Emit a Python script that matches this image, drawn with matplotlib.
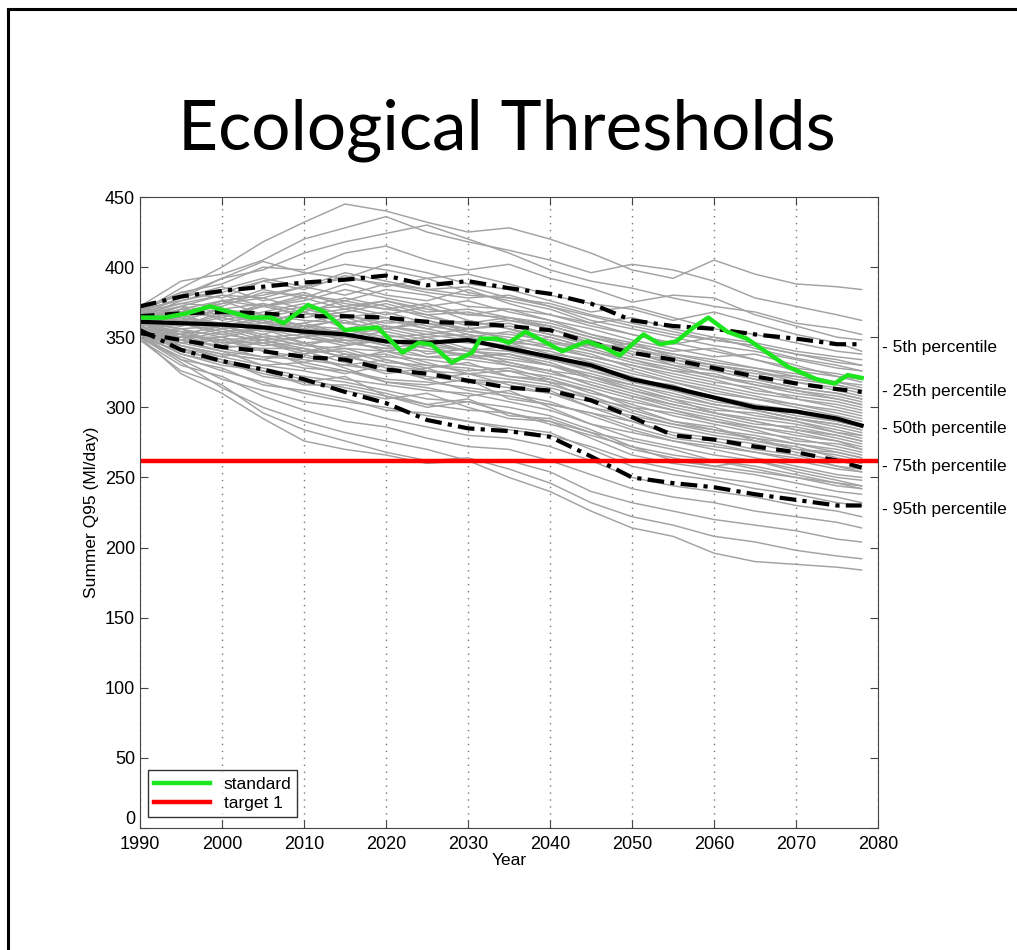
import matplotlib
matplotlib.use("Agg")
import matplotlib.pyplot as plt
from matplotlib.lines import Line2D

# ---- data ----
years = [1990, 1995, 2000, 2005, 2010, 2015, 2020, 2025, 2030, 2035,
         2040, 2045, 2050, 2055, 2060, 2065, 2070, 2075, 2078]

# ensemble members (grey)
members = [
    [368, 385, 400, 418, 432, 445, 440, 432, 425, 428, 420, 410, 398, 392, 405, 395, 388, 386, 384],
    [372, 390, 395, 405, 420, 428, 436, 425, 418, 412, 405, 396, 402, 398, 390, 378, 372, 366, 362],
    [366, 378, 392, 398, 410, 418, 424, 430, 420, 410, 398, 390, 385, 378, 372, 368, 360, 356, 352],
    [370, 382, 388, 400, 398, 410, 415, 405, 398, 402, 392, 385, 375, 380, 378, 366, 358, 350, 348],
    [364, 376, 382, 390, 395, 402, 398, 392, 395, 388, 380, 374, 370, 362, 368, 360, 352, 346, 340],
    [362, 372, 380, 378, 386, 392, 388, 384, 380, 378, 372, 365, 358, 352, 348, 344, 338, 334, 330],
    [368, 374, 372, 382, 380, 376, 384, 380, 372, 370, 366, 360, 352, 345, 350, 342, 335, 330, 326],
    [360, 366, 376, 372, 376, 384, 378, 372, 376, 368, 362, 356, 348, 342, 336, 338, 330, 322, 318],
    [370, 368, 374, 378, 370, 372, 376, 370, 366, 370, 362, 352, 344, 338, 332, 328, 324, 318, 316],
    [358, 370, 366, 372, 380, 374, 370, 366, 368, 362, 358, 350, 342, 336, 330, 326, 320, 316, 312],
    [366, 362, 370, 366, 372, 378, 372, 364, 360, 364, 356, 348, 338, 334, 328, 322, 318, 312, 308],
    [362, 364, 360, 366, 362, 360, 364, 358, 354, 352, 348, 340, 334, 328, 322, 318, 312, 306, 302],
    [360, 358, 364, 358, 360, 366, 358, 352, 356, 348, 342, 336, 330, 322, 316, 310, 306, 300, 296],
    [364, 362, 356, 360, 356, 354, 358, 354, 350, 346, 344, 338, 328, 320, 314, 308, 302, 298, 294],
    [358, 362, 360, 354, 358, 356, 350, 352, 348, 344, 340, 332, 324, 318, 310, 306, 300, 294, 290],
    [362, 356, 358, 362, 352, 350, 354, 348, 346, 342, 336, 330, 322, 314, 308, 302, 298, 292, 288],
    [356, 360, 354, 356, 354, 348, 346, 350, 342, 340, 334, 326, 318, 312, 306, 300, 294, 290, 286],
    [360, 354, 352, 348, 350, 346, 342, 340, 338, 334, 330, 322, 314, 306, 300, 294, 290, 284, 280],
    [358, 352, 348, 350, 344, 342, 340, 336, 334, 330, 324, 318, 310, 302, 296, 290, 284, 280, 276],
    [356, 350, 350, 344, 346, 338, 336, 334, 330, 326, 322, 314, 306, 298, 292, 286, 282, 276, 272],
    [354, 352, 346, 346, 340, 340, 332, 330, 328, 322, 318, 312, 302, 294, 288, 282, 278, 272, 268],
    [356, 348, 344, 342, 342, 336, 330, 326, 324, 320, 316, 308, 298, 290, 284, 280, 274, 268, 264],
    [354, 346, 340, 336, 334, 330, 326, 322, 318, 314, 310, 300, 290, 282, 278, 274, 268, 262, 258],
    [352, 344, 338, 334, 328, 326, 320, 318, 314, 310, 304, 294, 284, 276, 272, 268, 262, 256, 254],
    [355, 342, 336, 330, 326, 320, 316, 312, 310, 304, 298, 288, 278, 272, 266, 262, 256, 250, 248],
    [350, 340, 334, 328, 322, 318, 312, 306, 304, 300, 294, 284, 272, 266, 262, 256, 250, 246, 244],
    [353, 338, 330, 326, 320, 314, 308, 302, 298, 296, 290, 278, 266, 260, 256, 252, 246, 240, 238],
    [350, 336, 326, 318, 310, 304, 300, 294, 290, 286, 282, 270, 258, 252, 248, 242, 238, 232, 230],
    [352, 334, 320, 312, 304, 300, 292, 286, 280, 278, 272, 262, 250, 244, 240, 236, 230, 226, 222],
    [348, 330, 322, 308, 298, 290, 286, 278, 272, 270, 262, 252, 242, 236, 232, 226, 222, 218, 214],
    [350, 332, 314, 300, 290, 282, 276, 270, 262, 262, 254, 240, 232, 226, 220, 216, 212, 206, 204],
    [348, 326, 316, 296, 284, 276, 268, 262, 264, 256, 246, 232, 222, 216, 208, 204, 198, 194, 192],
    [350, 324, 310, 292, 276, 270, 266, 260, 262, 250, 240, 226, 214, 208, 196, 190, 188, 186, 184],
    [366, 372, 362, 368, 374, 366, 360, 362, 356, 360, 352, 344, 340, 330, 326, 320, 314, 310, 306],
    [360, 350, 356, 348, 340, 344, 348, 342, 336, 338, 330, 320, 312, 304, 298, 296, 290, 282, 280],
    [362, 370, 376, 366, 358, 362, 352, 346, 350, 340, 334, 328, 320, 316, 306, 298, 292, 288, 284],
    [354, 356, 344, 352, 346, 334, 340, 332, 324, 326, 318, 306, 300, 290, 286, 276, 270, 266, 262],
    [368, 378, 386, 376, 382, 372, 366, 372, 362, 356, 350, 342, 346, 336, 330, 324, 322, 316, 312],
    [358, 346, 350, 340, 332, 338, 328, 320, 324, 316, 310, 304, 292, 286, 280, 276, 272, 264, 260],
    [364, 368, 374, 384, 378, 388, 380, 376, 384, 374, 366, 358, 352, 346, 340, 334, 326, 322, 320],
    [356, 344, 336, 342, 330, 324, 330, 320, 312, 308, 302, 296, 290, 280, 276, 270, 266, 258, 256],
    [362, 358, 366, 360, 368, 356, 362, 356, 350, 354, 346, 340, 332, 326, 320, 312, 308, 304, 300],
    [352, 342, 332, 324, 318, 322, 308, 300, 304, 296, 288, 280, 272, 262, 258, 262, 254, 248, 244],
    [370, 380, 392, 404, 396, 392, 402, 396, 388, 384, 376, 368, 372, 364, 356, 352, 346, 340, 338],
    [360, 352, 342, 336, 338, 328, 318, 314, 308, 312, 300, 288, 282, 276, 270, 264, 258, 252, 250],
    [364, 358, 368, 362, 356, 364, 356, 360, 352, 346, 350, 342, 334, 326, 324, 316, 310, 306, 302],
    [358, 366, 358, 352, 360, 352, 344, 348, 340, 344, 336, 326, 320, 312, 304, 300, 296, 290, 286],
    [362, 368, 364, 372, 366, 370, 364, 356, 362, 356, 346, 344, 336, 330, 322, 316, 312, 308, 304],
    [356, 348, 354, 346, 350, 344, 350, 338, 342, 332, 326, 322, 312, 306, 296, 292, 288, 282, 278],
    [360, 362, 370, 374, 364, 368, 374, 366, 358, 362, 356, 346, 342, 334, 330, 326, 318, 314, 310],
    [354, 350, 342, 346, 338, 342, 334, 328, 332, 322, 320, 312, 300, 296, 290, 284, 276, 274, 270],
    [366, 374, 380, 372, 378, 370, 376, 368, 370, 364, 360, 352, 346, 340, 342, 334, 328, 324, 320],
    [352, 346, 348, 340, 336, 330, 334, 326, 320, 318, 314, 306, 296, 288, 284, 278, 274, 270, 266],
    [362, 360, 352, 356, 350, 356, 348, 344, 340, 336, 330, 324, 316, 310, 302, 298, 292, 286, 282],
    [368, 366, 376, 380, 386, 380, 388, 382, 378, 380, 372, 362, 356, 350, 344, 340, 334, 328, 326],
    [355, 340, 334, 322, 318, 312, 306, 310, 300, 292, 290, 282, 270, 264, 258, 254, 250, 244, 242],
    [360, 356, 350, 356, 346, 348, 340, 344, 336, 332, 326, 316, 308, 300, 294, 288, 286, 280, 276],
    [364, 372, 368, 360, 368, 360, 356, 362, 354, 350, 344, 336, 330, 324, 318, 314, 306, 302, 298],
    [358, 344, 338, 334, 340, 332, 324, 328, 318, 318, 312, 300, 294, 288, 282, 278, 270, 268, 264],
    [370, 376, 384, 392, 386, 396, 390, 384, 386, 378, 374, 366, 360, 354, 348, 344, 338, 332, 330],
    [354, 348, 340, 330, 332, 326, 318, 316, 320, 306, 302, 296, 286, 278, 274, 268, 264, 258, 254],
    [362, 364, 358, 364, 358, 352, 356, 350, 352, 346, 338, 334, 326, 318, 312, 306, 302, 296, 292],
    [356, 352, 358, 350, 344, 350, 344, 336, 338, 330, 326, 316, 308, 302, 296, 290, 284, 278, 274],
    [366, 364, 370, 364, 370, 364, 368, 360, 356, 358, 352, 346, 338, 332, 326, 320, 314, 310, 306],
    [352, 338, 332, 326, 316, 316, 310, 302, 306, 294, 292, 282, 276, 270, 262, 258, 252, 246, 242],
    [360, 370, 364, 374, 368, 376, 370, 374, 366, 364, 358, 350, 344, 338, 334, 328, 322, 318, 314],
    [356, 354, 346, 348, 342, 336, 338, 330, 326, 328, 320, 310, 304, 298, 290, 286, 280, 276, 270],
    [362, 352, 358, 350, 352, 346, 342, 346, 340, 338, 332, 322, 316, 308, 302, 298, 292, 288, 284],
    [368, 382, 378, 390, 384, 394, 386, 392, 382, 376, 370, 360, 364, 356, 350, 346, 340, 336, 334],
    [350, 334, 328, 316, 312, 306, 298, 296, 290, 284, 280, 272, 262, 256, 250, 246, 240, 236, 232],
]

p5 = [372, 379, 383, 386, 389, 391, 394, 387, 390, 385, 381, 374, 362, 358, 356, 352, 349, 345, 345]
p25 = [365, 367, 368, 367, 365, 365, 364, 361, 360, 358, 355, 346, 339, 334, 328, 322, 317, 313, 311]
p50 = [361, 360, 359, 357, 354, 352, 347, 346, 348, 342, 336, 330, 320, 314, 307, 300, 297, 292, 287]
p75 = [353, 348, 343, 340, 336, 334, 327, 324, 319, 314, 312, 305, 293, 280, 277, 272, 268, 262, 257]
p95 = [355, 341, 333, 327, 320, 311, 303, 291, 285, 283, 279, 265, 250, 246, 243, 238, 234, 230, 230]

std_years = [1990, 1993, 1995.7, 1998.5, 2001, 2003.5, 2006, 2007.5, 2010.5, 2012.5, 2015,
             2019, 2022, 2024, 2025.5, 2028, 2030.5, 2031.5, 2033.5, 2035, 2037, 2041.5,
             2044.5, 2046.5, 2048.5, 2051.4, 2053.4, 2055.4, 2057.5, 2059.3, 2061.6, 2064,
             2066.5, 2069, 2072.5, 2074.7, 2076.3, 2078]
standard = [364, 364, 367, 372, 368, 364, 364, 360, 373, 368, 355,
            357, 339, 346, 345, 332, 339, 349, 349, 346, 354, 340,
            347, 343, 337, 352, 345, 347, 357, 364, 354, 349,
            339, 329, 320, 317, 323, 321]

target1 = 262
pct_labels = ["- 5th percentile", "- 25th percentile", "- 50th percentile",
              "- 75th percentile", "- 95th percentile"]
pct_label_y = [343, 311, 285, 258, 227]

fig = plt.figure(figsize=(10.17, 9.5), dpi=100)
plt.rcParams["font.family"] = ["Liberation Sans", "DejaVu Sans"]

# slide frame
fig.add_artist(Line2D([8 / 1017, 8 / 1017], [0, 1 - 9 / 950], color="black", lw=2.2))
fig.add_artist(Line2D([8 / 1017, 1], [1 - 9 / 950, 1 - 9 / 950], color="black", lw=2.2))
fig.text(507 / 1017, 1 - 130 / 950, "Ecological Thresholds", ha="center", va="center",
         fontsize=50, family=["Lato", "DejaVu Sans"])

ax = fig.add_axes([140 / 1017, 122 / 950, 738 / 1017, 631 / 950])

for m in members:
    ax.plot(years, m, color="#a2a2a2", lw=1.05)

ax.plot(years, p5, color="black", lw=3, ls=(0, (4, 1.5, 1, 1.5)))
ax.plot(years, p95, color="black", lw=3, ls=(0, (4, 1.5, 1, 1.5)))
ax.plot(years, p25, color="black", lw=3, ls=(0, (3.5, 2.5)))
ax.plot(years, p75, color="black", lw=3, ls=(0, (3.5, 2.5)))
ax.plot(years, p50, color="black", lw=3)
ax.plot(std_years, standard, color="#1ee61e", lw=3.2, label="standard")
ax.axhline(target1, color="#ff0000", lw=3.2, label="target 1")

ax.set_xlim(1990, 2080)
ax.set_ylim(0, 450)
ax.set_xticks(range(1990, 2081, 10))
ax.set_yticks(range(0, 451, 50))
ax.tick_params(direction="in", length=6, top=True, right=True, labelsize=13,
               color="#444444")
ax.tick_params(axis="x", pad=6)
for s in ax.spines.values():
    s.set_color("#444444")
ax.xaxis.grid(True, ls=(0, (1, 4)), color="#777777", lw=1)
ax.set_xlabel("Year", fontsize=12.5, labelpad=0)
ax.set_ylabel("Summer Q95 (Ml/day)", fontsize=12.5, labelpad=4)

# the "0" label sits just above the corner, as in the original
ax.get_yticklabels()[0].set_va("bottom")

for lab, yv in zip(pct_labels, pct_label_y):
    ax.text(1.005, yv, lab, transform=ax.get_yaxis_transform(), fontsize=12.5,
            va="center", ha="left")

leg = ax.legend(loc="lower left", bbox_to_anchor=(0.011, 0.017), fontsize=12.5,
                frameon=True, fancybox=False, edgecolor="black", handlelength=3.2,
                borderpad=0.35, labelspacing=0.25, borderaxespad=0)
leg.get_frame().set_linewidth(1)

fig.savefig("out.png", dpi=100)
